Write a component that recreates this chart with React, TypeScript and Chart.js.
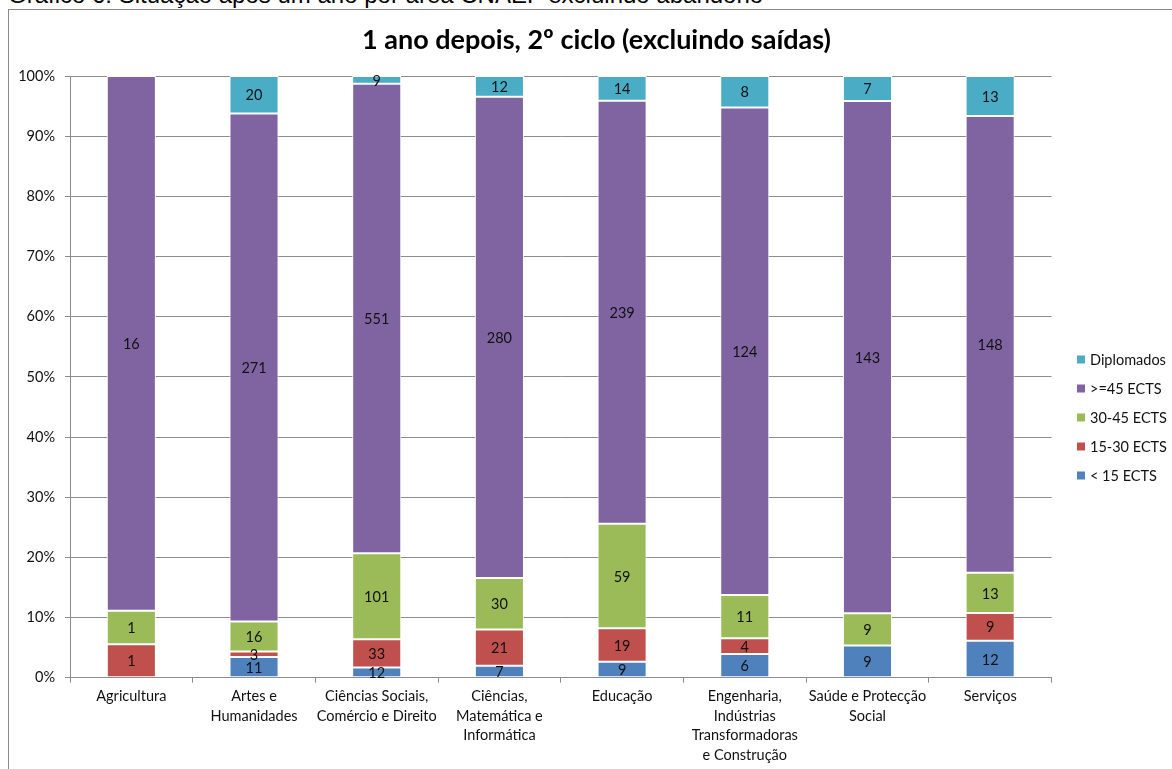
import React, { useEffect, useRef } from "react";
import { Chart, registerables } from "chart.js";

Chart.register(...registerables);

const categories: string[][] = [
  ["Agricultura"],
  ["Artes e", "Humanidades"],
  ["Ciências Sociais,", "Comércio e Direito"],
  ["Ciências,", "Matemática e", "Informática"],
  ["Educação"],
  ["Engenharia,", "Indústrias", "Transformadoras", "e Construção"],
  ["Saúde e Protecção", "Social"],
  ["Serviços"],
];

const seriesNames = ["< 15 ECTS", "15-30 ECTS", "30-45 ECTS", ">=45 ECTS", "Diplomados"];
const seriesColors = ["#4F81BD", "#C0504D", "#9BBB59", "#8064A2", "#4BACC6"];

const menos15 = [0, 11, 12, 7, 9, 6, 9, 12];
const de15a30 = [1, 3, 33, 21, 19, 4, 0, 9];
const de30a45 = [1, 16, 101, 30, 59, 11, 9, 13];
const mais45 = [16, 271, 551, 280, 239, 124, 143, 148];
const diplomados = [0, 20, 9, 12, 14, 8, 7, 13];

const counts = [menos15, de15a30, de30a45, mais45, diplomados];

const chartTitle = "1 ano depois, 2º ciclo (excluindo saídas)";
const caption = "Gráfico 6: Situação após um ano por área CNAEF excluindo abandono";

const FONT = "Lato";
const TEXT = "#111111";
const GRID = "#8c8c8c";

const totals = categories.map((_, i) => counts.reduce((s, arr) => s + arr[i], 0));

const valueLabels = {
  id: "valueLabels",
  afterDatasetsDraw(chart: any) {
    const ctx = chart.ctx;
    ctx.save();
    ctx.font = `14.5px ${FONT}`;
    ctx.fillStyle = TEXT;
    ctx.textAlign = "center";
    ctx.textBaseline = "middle";
    chart.data.datasets.forEach((_: any, d: number) => {
      const meta = chart.getDatasetMeta(d);
      meta.data.forEach((bar: any, i: number) => {
        const c = counts[d][i];
        if (!c) return;
        const { x, y, base } = bar.getProps(["x", "y", "base"], true);
        ctx.fillText(String(c), x, (y + base) / 2 + 1);
      });
    });
    ctx.restore();
  },
};

const sideLegend = {
  id: "sideLegend",
  afterDraw(chart: any) {
    const ctx = chart.ctx;
    const area = chart.chartArea;
    const x0 = area.right + 25.5;
    const y0 = area.top + 283.5;
    ctx.save();
    ctx.font = `14.5px ${FONT}`;
    ctx.textAlign = "left";
    ctx.textBaseline = "middle";
    const ds = chart.data.datasets;
    for (let k = 0; k < ds.length; k++) {
      const d = ds[ds.length - 1 - k];
      const y = y0 + k * 29;
      ctx.fillStyle = d.backgroundColor;
      ctx.fillRect(x0, y - 4, 8, 8);
      ctx.fillStyle = TEXT;
      ctx.fillText(d.label, x0 + 13, y + 1);
    }
    ctx.restore();
  },
};

export default function App() {
  const ref = useRef<HTMLCanvasElement | null>(null);

  useEffect(() => {
    if (!ref.current) return;
    const chart = new Chart(ref.current, {
      type: "bar",
      data: {
        labels: categories,
        datasets: counts.map((arr, d) => ({
          label: seriesNames[d],
          data: arr.map((v, i) => (v / totals[i]) * 100),
          backgroundColor: seriesColors[d],
          borderColor: "#ffffff",
          borderWidth: 1,
          borderSkipped: false,
          categoryPercentage: 1,
          barPercentage: 0.4,
          yAxisID: "y",
        })),
      },
      options: {
        responsive: false,
        animation: false,
        devicePixelRatio: 1,
        layout: { padding: { left: 0, right: 0, top: 0, bottom: 1.3 } },
        plugins: {
          legend: { display: false },
          tooltip: { enabled: false },
          title: {
            display: true,
            text: chartTitle,
            color: "#000",
            font: { family: FONT, size: 27, weight: "bold", lineHeight: 1.2 },
            padding: { top: 14.5, bottom: 19.1 },
          },
        },
        scales: {
          x: {
            stacked: true,
            grid: { drawOnChartArea: false, color: GRID, tickLength: 5, offset: true },
            border: { color: GRID },
            ticks: {
              color: TEXT,
              font: { family: FONT, size: 14.5, lineHeight: 1.35 },
              padding: 4,
              autoSkip: false,
              maxRotation: 0,
              minRotation: 0,
            },
            afterFit: (s: any) => {
              s.height = 90;
            },
          },
          y: {
            stacked: true,
            min: 0,
            max: 100,
            grid: { color: GRID, tickLength: 5 },
            border: { color: GRID },
            ticks: {
              stepSize: 10,
              color: TEXT,
              font: { family: FONT, size: 14.5 },
              padding: 10,
              callback: (v: any) => `${v}%`,
            },
            afterFit: (s: any) => {
              s.width = 61;
            },
          },
          legendSpace: {
            type: "linear",
            position: "right",
            display: true,
            grid: { display: false },
            ticks: { display: false },
            border: { display: false },
            afterFit: (s: any) => {
              s.width = 132.5;
            },
          },
        },
      },
      plugins: [valueLabels, sideLegend],
    });
    return () => chart.destroy();
  }, []);

  return (
    <div
      style={{
        position: "fixed",
        left: 0,
        top: 0,
        width: 1172,
        height: 769,
        overflow: "hidden",
        background: "#fff",
      }}
    >
      <div
        style={{
          position: "absolute",
          left: 8,
          top: -16.8,
          fontFamily: "'Liberation Sans', Arial, sans-serif",
          fontSize: 24,
          lineHeight: "24px",
          color: "#000",
          whiteSpace: "nowrap",
        }}
      >
        {caption}
      </div>
      <div
        style={{
          position: "absolute",
          left: 8,
          top: 9,
          width: 1250,
          height: 820,
          border: "1px solid #8a8a8a",
          boxSizing: "border-box",
        }}
      >
        <canvas
          ref={ref}
          width={1175}
          height={759}
          style={{ position: "absolute", left: 0, top: 0, width: 1175, height: 759 }}
        />
      </div>
    </div>
  );
}
